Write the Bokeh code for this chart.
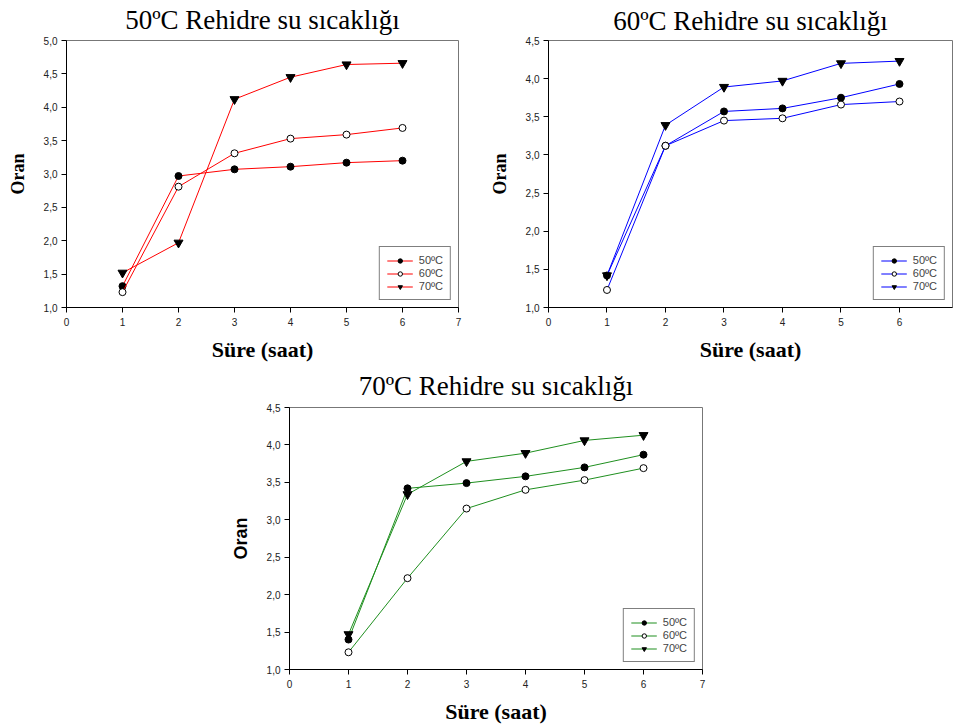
from bokeh.plotting import figure
from bokeh.layouts import column, row
from bokeh.models import Range1d, FixedTicker, CustomJSTickFormatter, Legend, LegendItem
from bokeh.embed import file_html
from bokeh.resources import INLINE

saat = [1, 2, 3, 4, 5, 6]
series_labels = ["50ºC", "60ºC", "70ºC"]

# 50ºC rehidre
r50_s50 = [1.32, 2.97, 3.07, 3.11, 3.17, 3.20]
r50_s60 = [1.23, 2.81, 3.31, 3.53, 3.59, 3.69]
r50_s70 = [1.52, 1.97, 4.12, 4.45, 4.64, 4.66]
# 60ºC rehidre
r60_s50 = [1.42, 3.12, 3.57, 3.61, 3.75, 3.93]
r60_s60 = [1.23, 3.12, 3.45, 3.48, 3.66, 3.70]
r60_s70 = [1.42, 3.39, 3.89, 3.97, 4.20, 4.23]
# 70ºC rehidre
r70_s50 = [1.40, 3.42, 3.49, 3.58, 3.70, 3.87]
r70_s60 = [1.23, 2.22, 3.15, 3.40, 3.53, 3.69]
r70_s70 = [1.47, 3.34, 3.78, 3.89, 4.06, 4.13]

titles = ["50ºC Rehidre su sıcaklığı", "60ºC Rehidre su sıcaklığı", "70ºC Rehidre su sıcaklığı"]
x_label = "Süre (saat)"
y_label = "Oran"

SERIF = "Liberation Serif"
SANS = "Liberation Sans"


def make_plot(title, series, color, width, height, mb, x_end, y_end, y_ticks,
              oran_font, title_standoff):
    p = figure(width=width, height=height, output_backend="svg", toolbar_location=None,
               x_range=Range1d(0, x_end), y_range=Range1d(1.0, y_end),
               min_border_left=mb[0], min_border_right=mb[1],
               min_border_top=mb[2], min_border_bottom=mb[3])
    p.title.text = title
    p.title.text_font = SERIF
    p.title.text_font_size = "27px"
    p.title.text_font_style = "normal"
    p.title.text_line_height = 0.8
    p.title.align = "center"
    p.title.vertical_align = "top"
    p.title.text_color = "black"
    p.title.standoff = title_standoff
    p.title.offset = 0
    p.outline_line_color = "#777777"
    p.grid.visible = False
    p.background_fill_color = "white"
    p.border_fill_color = "white"

    p.xaxis.ticker = FixedTicker(ticks=[0, 1, 2, 3, 4, 5, 6, 7])
    p.yaxis.ticker = FixedTicker(ticks=y_ticks)
    p.yaxis.formatter = CustomJSTickFormatter(code="return tick.toFixed(1).replace('.', ',');")
    for ax in (p.xaxis, p.yaxis):
        ax.axis_line_color = "black"
        ax.major_tick_line_color = "black"
        ax.minor_tick_line_color = None
        ax.major_tick_in = 0
        ax.major_tick_out = 5
        ax.major_label_text_font = SANS
        ax.major_label_text_font_size = "10px"
        ax.major_label_text_color = "#222222"
        ax.axis_label_text_font_style = "bold"
        ax.axis_label_text_color = "black"
    p.xaxis.axis_label = x_label
    p.xaxis.axis_label_text_font = SERIF
    p.xaxis.axis_label_text_font_size = "22px"
    p.xaxis.major_label_standoff = 5
    p.xaxis.axis_label_standoff = 8
    p.yaxis.axis_label = y_label
    p.yaxis.axis_label_text_font = oran_font
    p.yaxis.axis_label_text_font_size = "18px"
    p.yaxis.major_label_standoff = 4
    p.yaxis.axis_label_standoff = 13

    markers = [("circle", "black", "black", 7), ("circle", "white", "black", 7),
               ("inverted_triangle", "black", "black", 9)]
    items = []
    for ys, lab, (mk, fill, lc, sz) in zip(series, series_labels, markers):
        l = p.line(saat, ys, line_color=color, line_width=1)
        s = p.scatter(saat, ys, marker=mk, size=sz, fill_color=fill, line_color=lc, line_width=1)
        items.append(LegendItem(label=lab, renderers=[l, s]))
    leg = Legend(items=items, location="bottom_right")
    leg.border_line_color = "black"
    leg.border_line_width = 1
    leg.background_fill_color = "white"
    leg.background_fill_alpha = 1
    leg.label_text_font = SANS
    leg.label_text_font_size = "11px"
    leg.glyph_width = 26
    leg.glyph_height = 11
    leg.label_height = 11
    leg.label_standoff = 6
    leg.spacing = 1
    leg.padding = 7
    leg.margin = 7
    p.add_layout(leg)
    return p


p1 = make_plot(titles[0], [r50_s50, r50_s60, r50_s70], "#ff0000", 478, 365,
               (66, 20, 40, 58), 7, 5.0, [1.0, 1.5, 2.0, 2.5, 3.0, 3.5, 4.0, 4.5, 5.0],
               SERIF, 8)
p2 = make_plot(titles[1], [r60_s50, r60_s60, r60_s70], "#0000ff", 475, 365,
               (70, 1, 40, 58), 6.906, 4.5, [1.0, 1.5, 2.0, 2.5, 3.0, 3.5, 4.0, 4.5],
               SERIF, 6)
p3 = make_plot(titles[2], [r70_s50, r70_s60, r70_s70], "#1f8f1f", 953, 361,
               (289, 251, 42, 57), 7, 4.5, [1.0, 1.5, 2.0, 2.5, 3.0, 3.5, 4.0, 4.5],
               SANS, 9)

layout = column(row(p1, p2, spacing=0), p3, spacing=0)
open("out.html", "w").write(file_html(layout, INLINE))
